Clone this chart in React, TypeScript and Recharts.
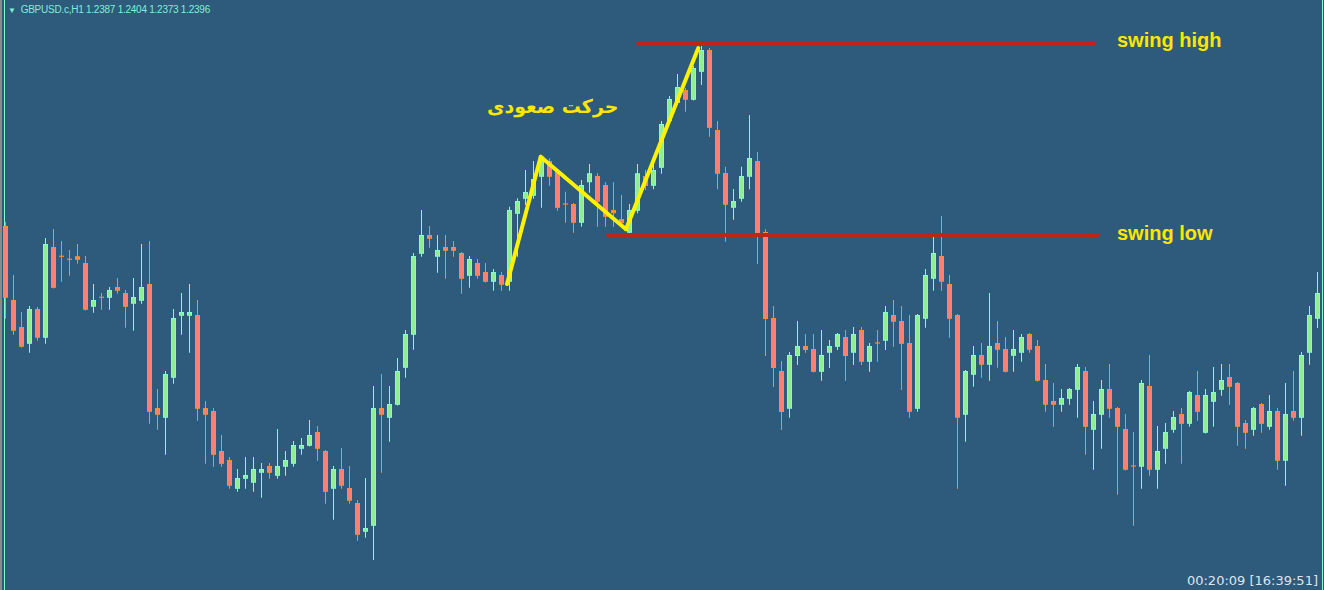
import { ComposedChart, Bar, XAxis, YAxis, ReferenceLine, ReferenceDot } from 'recharts'

// GBPUSD.c H1 candles, left to right
const OPEN = [
  1.24228, 1.23932, 1.23824, 1.23757, 1.23896, 1.23781, 1.24144, 1.24107, 1.24095, 1.24107,
  1.24080, 1.23905, 1.23943, 1.23941, 1.23984, 1.23960, 1.23917, 1.23929, 1.23996, 1.23500,
  1.23461, 1.23621, 1.23869, 1.23869, 1.23872, 1.23500, 1.23488, 1.23328, 1.23292, 1.23177,
  1.23217, 1.23201, 1.23241, 1.23268, 1.23229, 1.23265, 1.23277, 1.23337, 1.23349, 1.23404,
  1.23328, 1.23177, 1.23256, 1.23180, 1.23120, 1.23005, 1.23029, 1.23500, 1.23461, 1.23513,
  1.23661, 1.23793, 1.24117, 1.24192, 1.24105, 1.24144, 1.24144, 1.24120, 1.24029, 1.24080,
  1.24044, 1.24005, 1.24032, 1.24005, 1.24277, 1.24337, 1.24349, 1.24425, 1.24488, 1.24445,
  1.24316, 1.24316, 1.24241, 1.24403, 1.24428, 1.24392, 1.24292, 1.24256, 1.24201, 1.24289,
  1.24428, 1.24389, 1.24461, 1.24648, 1.24721, 1.24772, 1.24733, 1.24845, 1.24932, 1.24612,
  1.24440, 1.24301, 1.24337, 1.24425, 1.24488, 1.24204, 1.23860, 1.23648, 1.23497, 1.23708,
  1.23748, 1.23736, 1.23645, 1.23721, 1.23745, 1.23784, 1.23721, 1.23812, 1.23685, 1.23760,
  1.23769, 1.23872, 1.23848, 1.23760, 1.23497, 1.23857, 1.24017, 1.24108, 1.23996, 1.23872,
  1.23473, 1.23633, 1.23712, 1.23673, 1.23760, 1.23736, 1.23709, 1.23721, 1.23796, 1.23748,
  1.23612, 1.23528, 1.23513, 1.23537, 1.23573, 1.23648, 1.23413, 1.23473, 1.23576, 1.23500,
  1.23416, 1.23268, 1.23265, 1.23588, 1.23253, 1.23337, 1.23413, 1.23476, 1.23437, 1.23552,
  1.23401, 1.23525, 1.23573, 1.23624, 1.23600, 1.23440, 1.23413, 1.23516, 1.23425, 1.23488,
  1.23289, 1.23488, 1.23461, 1.23721, 1.23857,
]
const HIGH = [
  1.24244, 1.24032, 1.23884, 1.23908, 1.23904, 1.24180, 1.24216, 1.24168, 1.24132, 1.24156,
  1.24108, 1.23996, 1.23960, 1.23984, 1.24020, 1.23972, 1.24020, 1.24156, 1.24168, 1.23576,
  1.23648, 1.23896, 1.23960, 1.23996, 1.23932, 1.23528, 1.23500, 1.23392, 1.23304, 1.23256,
  1.23304, 1.23304, 1.23280, 1.23280, 1.23416, 1.23328, 1.23368, 1.23380, 1.23452, 1.23428,
  1.23332, 1.23268, 1.23340, 1.23268, 1.23132, 1.23220, 1.23588, 1.23636, 1.23588, 1.23700,
  1.23812, 1.24120, 1.24292, 1.24228, 1.24192, 1.24192, 1.24168, 1.24124, 1.24108, 1.24096,
  1.24080, 1.24056, 1.24044, 1.24305, 1.24339, 1.24452, 1.24488, 1.24512, 1.24499, 1.24452,
  1.24365, 1.24320, 1.24412, 1.24476, 1.24439, 1.24403, 1.24403, 1.24352, 1.24316, 1.24476,
  1.24452, 1.24472, 1.24648, 1.24748, 1.24836, 1.24780, 1.24868, 1.24948, 1.24940, 1.24648,
  1.24465, 1.24376, 1.24465, 1.24672, 1.24524, 1.24215, 1.23908, 1.23688, 1.23724, 1.23848,
  1.23796, 1.23796, 1.23812, 1.23772, 1.23800, 1.23812, 1.23824, 1.23824, 1.23760, 1.23812,
  1.23908, 1.23932, 1.23908, 1.23872, 1.23876, 1.24056, 1.24188, 1.24268, 1.24032, 1.23876,
  1.23652, 1.23748, 1.23760, 1.23960, 1.23848, 1.23784, 1.23812, 1.23796, 1.23800, 1.23772,
  1.23676, 1.23600, 1.23576, 1.23580, 1.23676, 1.23664, 1.23528, 1.23612, 1.23676, 1.23504,
  1.23476, 1.23404, 1.23612, 1.23712, 1.23428, 1.23440, 1.23488, 1.23500, 1.23568, 1.23648,
  1.23576, 1.23664, 1.23676, 1.23676, 1.23604, 1.23452, 1.23504, 1.23520, 1.23552, 1.23500,
  1.23600, 1.23648, 1.23724, 1.23908, 1.24044,
]
const LOW = [
  1.23857, 1.23793, 1.23742, 1.23721, 1.23769, 1.23757, 1.23978, 1.24005, 1.24029, 1.24077,
  1.23890, 1.23881, 1.23893, 1.23893, 1.23957, 1.23821, 1.23809, 1.23917, 1.23437, 1.23413,
  1.23313, 1.23597, 1.23793, 1.23721, 1.23449, 1.23277, 1.23265, 1.23265, 1.23177, 1.23165,
  1.23177, 1.23165, 1.23141, 1.23217, 1.23217, 1.23229, 1.23265, 1.23313, 1.23346, 1.23289,
  1.23117, 1.23053, 1.23177, 1.23117, 1.22969, 1.22981, 1.22892, 1.23241, 1.23365, 1.23510,
  1.23621, 1.23733, 1.24105, 1.24141, 1.24041, 1.24017, 1.24105, 1.23957, 1.23981, 1.24017,
  1.24002, 1.23969, 1.23969, 1.23969, 1.24105, 1.24312, 1.24337, 1.24301, 1.24389, 1.24289,
  1.24241, 1.24201, 1.24225, 1.24361, 1.24225, 1.24225, 1.24225, 1.24225, 1.24200, 1.24279,
  1.24372, 1.24375, 1.24437, 1.24640, 1.24712, 1.24685, 1.24730, 1.24792, 1.24585, 1.24375,
  1.24165, 1.24253, 1.24325, 1.24375, 1.24076, 1.23708, 1.23584, 1.23412, 1.23461, 1.23672,
  1.23721, 1.23642, 1.23609, 1.23660, 1.23732, 1.23609, 1.23672, 1.23672, 1.23645, 1.23685,
  1.23732, 1.23745, 1.23572, 1.23461, 1.23485, 1.23821, 1.23969, 1.23969, 1.23781, 1.23177,
  1.23365, 1.23585, 1.23621, 1.23609, 1.23661, 1.23642, 1.23645, 1.23685, 1.23721, 1.23606,
  1.23485, 1.23425, 1.23485, 1.23513, 1.23461, 1.23313, 1.23253, 1.23337, 1.23461, 1.23153,
  1.23250, 1.23029, 1.23177, 1.23229, 1.23177, 1.23277, 1.23401, 1.23277, 1.23425, 1.23449,
  1.23398, 1.23425, 1.23549, 1.23513, 1.23349, 1.23337, 1.23389, 1.23401, 1.23413, 1.23253,
  1.23189, 1.23449, 1.23389, 1.23673, 1.23820,
]
const CLOSE = [
  1.23941, 1.23809, 1.23745, 1.23896, 1.23781, 1.24156, 1.23981, 1.24107, 1.24095, 1.24093,
  1.23893, 1.23932, 1.23943, 1.23972, 1.23969, 1.23905, 1.23944, 1.23984, 1.23485, 1.23473,
  1.23636, 1.23860, 1.23884, 1.23884, 1.23497, 1.23473, 1.23313, 1.23277, 1.23189, 1.23220,
  1.23232, 1.23256, 1.23256, 1.23241, 1.23268, 1.23292, 1.23352, 1.23352, 1.23392, 1.23337,
  1.23165, 1.23256, 1.23189, 1.23129, 1.22993, 1.23020, 1.23500, 1.23473, 1.23516, 1.23648,
  1.23796, 1.24108, 1.24192, 1.24177, 1.24132, 1.24129, 1.24129, 1.24017, 1.24096, 1.24029,
  1.24005, 1.24044, 1.23993, 1.24292, 1.24328, 1.24364, 1.24416, 1.24505, 1.24425, 1.24301,
  1.24316, 1.24241, 1.24392, 1.24439, 1.24325, 1.24265, 1.24279, 1.24239, 1.24292, 1.24439,
  1.24388, 1.24452, 1.24636, 1.24736, 1.24784, 1.24733, 1.24860, 1.24932, 1.24621, 1.24437,
  1.24313, 1.24328, 1.24428, 1.24500, 1.24185, 1.23856, 1.23660, 1.23484, 1.23712, 1.23748,
  1.23732, 1.23645, 1.23712, 1.23748, 1.23796, 1.23708, 1.23796, 1.23685, 1.23748, 1.23760,
  1.23884, 1.23845, 1.23757, 1.23485, 1.23872, 1.24032, 1.24120, 1.24005, 1.23857, 1.23461,
  1.23648, 1.23712, 1.23673, 1.23748, 1.23733, 1.23645, 1.23736, 1.23784, 1.23733, 1.23609,
  1.23513, 1.23513, 1.23540, 1.23576, 1.23664, 1.23425, 1.23476, 1.23576, 1.23497, 1.23425,
  1.23253, 1.23268, 1.23600, 1.23253, 1.23328, 1.23404, 1.23464, 1.23437, 1.23564, 1.23485,
  1.23552, 1.23564, 1.23612, 1.23585, 1.23425, 1.23401, 1.23500, 1.23437, 1.23488, 1.23289,
  1.23476, 1.23461, 1.23712, 1.23872, 1.23960,
]

// annotations, in bar index / price
const SWING_HIGH = { from: 79.06, to: 136.06, price: 1.24958 }
const SWING_LOW = { from: 75.3, to: 136.56, price: 1.24192 }
const ZIGZAG = [
  { x: 62.69, y: 1.23996 },
  { x: 66.9, y: 1.24505 },
  { x: 77.56, y: 1.24215 },
  { x: 86.6, y: 1.2494 },
]
const UP_MOVE = { x: 68.4, y: 1.24708, text: 'حرکت صعودی' }

const HEADER = 'GBPUSD.c,H1 1.2387 1.2404 1.2373 1.2396'
const CLOCK = '00:20:09 [16:39:51]'

const data = OPEN.map((open, i) => ({ i, open, high: HIGH[i], low: LOW[i], close: CLOSE[i] }))

const BG = '#2E5A7B'
const BULL_BODY = '#90EE90'
const BULL_LINE = '#7FFFD4'
const BEAR_BODY = '#FA8072'
const BEAR_LINE = '#F5922A'

function Candle(props: any) {
  const { x, y, width, height, payload } = props
  if (!payload || height == null) return null
  const { open, close, high, low } = payload
  const top = Math.min(y, y + height)
  const h = Math.abs(height)
  const k = h / (high - low)
  const yo = top + (high - open) * k
  const yc = top + (high - close) * k
  const bull = close > open
  const line = bull ? BULL_LINE : BEAR_LINE
  const cx = Math.round(x + width / 2 - 0.5) + 0.5
  const bTop = Math.min(yo, yc)
  const bH = Math.abs(yo - yc)
  return (
    <g>
      <line x1={cx} x2={cx} y1={top} y2={top + h} stroke={line} strokeWidth={1} />
      {bH < 1.5 ? (
        <line x1={cx - 2.5} x2={cx + 2.5} y1={bTop} y2={bTop} stroke={line} strokeWidth={1.2} />
      ) : (
        <rect x={cx - 2} y={bTop + 0.5} width={4} height={bH - 1} fill={bull ? BULL_BODY : BEAR_BODY} stroke={line} strokeWidth={1} />
      )}
    </g>
  )
}

const labelStyle = { fill: '#FFE600', fontSize: 20, fontWeight: 'bold', fontFamily: 'Liberation Sans, Arial, sans-serif' }

export default function App() {
  return (
    <div style={{ position: 'fixed', left: 0, top: 0, width: 1324, height: 590, background: BG, overflow: 'hidden' }}>
      <div style={{ position: 'absolute', left: 0, top: 0, width: 2, height: 590, background: '#8A8A8A' }} />
      <div style={{ position: 'absolute', left: 4, top: 0, width: 1, height: 590, background: '#7FFFD4' }} />
      <div style={{ position: 'absolute', left: 1322, top: 0, width: 1, height: 590, background: '#7FFFD4' }} />
      <div style={{ position: 'absolute', left: 0, top: 0 }}>
        <ComposedChart width={1324} height={590} data={data} margin={{ top: 0, right: 0, bottom: 0, left: 0 }}>
          <XAxis dataKey="i" type="number" domain={[-0.6875, 164.8125]} allowDataOverflow hide />
          <YAxis type="number" domain={[1.22772, 1.25132]} allowDataOverflow hide />
          <Bar dataKey={(d: any) => [d.low, d.high]} barSize={5} shape={Candle} isAnimationActive={false} />
          <ReferenceLine
            segment={[{ x: SWING_HIGH.from, y: SWING_HIGH.price }, { x: SWING_HIGH.to, y: SWING_HIGH.price }]}
            stroke="#BE2418" strokeWidth={4} strokeLinecap="round" ifOverflow="visible"
            label={{ value: 'swing high', position: 'right', offset: 23, dy: -4, ...labelStyle }}
          />
          <ReferenceLine
            segment={[{ x: SWING_LOW.from, y: SWING_LOW.price }, { x: SWING_LOW.to, y: SWING_LOW.price }]}
            stroke="#BE2418" strokeWidth={4} strokeLinecap="round" ifOverflow="visible"
            label={{ value: 'swing low', position: 'right', offset: 19, dy: -2, ...labelStyle }}
          />
          {ZIGZAG.slice(1).map((p, k) => (
            <ReferenceLine
              key={k}
              segment={[ZIGZAG[k], p]}
              stroke="#FFF200" strokeWidth={4} strokeLinecap="round" ifOverflow="visible"
            />
          ))}
          <ReferenceDot
            x={UP_MOVE.x} y={UP_MOVE.y} r={0} fill="none" stroke="none" ifOverflow="visible"
            label={{ value: UP_MOVE.text, position: 'center', fill: '#FFE600', fontSize: 19, fontWeight: 'bold', fontFamily: 'DejaVu Sans, sans-serif' }}
          />
        </ComposedChart>
      </div>
      <div style={{ position: 'absolute', left: 8, top: 5, fontFamily: 'Liberation Sans, Arial, sans-serif', fontSize: 10, lineHeight: '10px', color: '#7FEFD4', whiteSpace: 'pre', letterSpacing: -0.25 }}>
        <span style={{ fontSize: 8, marginRight: 5 }}>▼</span>{HEADER}
      </div>
      <div style={{ position: 'absolute', right: 6, top: 574, fontFamily: 'DejaVu Sans, sans-serif', fontSize: 13, lineHeight: '13px', color: '#DCE6F0', whiteSpace: 'pre' }}>
        {CLOCK}
      </div>
    </div>
  )
}
